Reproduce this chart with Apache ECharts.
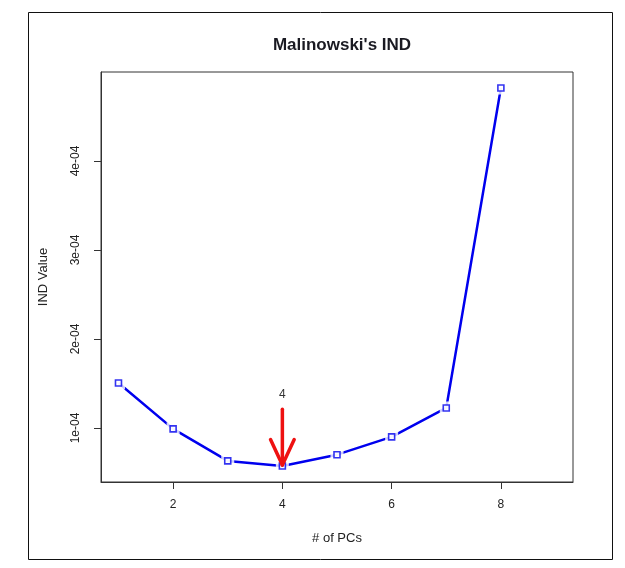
<!DOCTYPE html>
<html><head><meta charset="utf-8">
<script src="https://cdn.jsdelivr.net/npm/echarts@6/dist/echarts.min.js"></script>
<style>html,body{margin:0;padding:0;background:#fff}#c{width:625px;height:568px}</style>
</head><body><div id="c"></div>
<script>
const pcs = [1,2,3,4,5,6,7,8];
const indValues = [1.506e-4, 0.99e-4, 0.63e-4, 0.573e-4, 0.70e-4, 0.90e-4, 1.225e-4, 4.82e-4];
const xTicks = [2,4,6,8];
const yTicks = [1e-4, 2e-4, 3e-4, 4e-4];
const yTickLabels = ['1e-04','2e-04','3e-04','4e-04'];
const arrowData = [[4, 1.21e-4, 0.585e-4]];
const arrowLabel = [[4, 1.37e-4, '4']];

const font = 'Liberation Sans, Arial, sans-serif';
const pts = pcs.map((p,i)=>[p, indValues[i]]);
const chart = echarts.init(document.getElementById('c'));
chart.setOption({
  backgroundColor:'#fff',
  animation:false,
  title:{text:"Malinowski's IND", left:337, top:32, textAlign:'center',
    textStyle:{fontFamily:font,fontSize:17,fontWeight:'bold',color:'#1a1a22'}},
  graphic:[{type:'rect',shape:{x:28.5,y:12.5,width:584,height:547},style:{fill:null,stroke:'#111',lineWidth:1}}],
  grid:{left:101,top:72,width:472,height:410,show:true,borderColor:'#333',borderWidth:1,containLabel:false},
  xAxis:{type:'value',min:0.68,max:9.32,
    name:'# of PCs',nameLocation:'middle',nameGap:50,
    nameTextStyle:{fontFamily:font,fontSize:13,color:'#222'},
    axisLine:{show:true,lineStyle:{color:'#333'}},
    axisTick:{show:true,length:7,inside:false,customValues:xTicks,lineStyle:{color:'#333'}},
    axisLabel:{customValues:xTicks,margin:17,fontFamily:font,fontSize:12,color:'#222'},
    splitLine:{show:false}},
  yAxis:{type:'value',min:0.393e-4,max:5e-4,
    name:'IND Value',nameLocation:'middle',nameGap:51,nameRotate:90,
    nameTextStyle:{fontFamily:font,fontSize:13,color:'#222'},
    axisLine:{show:true,lineStyle:{color:'#333'}},
    axisTick:{show:true,length:7,inside:false,customValues:yTicks,lineStyle:{color:'#333'}},
    axisLabel:{customValues:yTicks,rotate:90,margin:19,fontFamily:font,fontSize:12,color:'#222',
      formatter:(v)=>{const i=yTicks.findIndex(t=>Math.abs(t-v)<1e-9);return i>=0?yTickLabels[i]:'';}},
    splitLine:{show:false}},
  series:[
    {type:'line',data:pts,symbol:'none',lineStyle:{color:'#0000ee',width:2.5},z:2},
    {type:'scatter',data:pts,symbol:'rect',symbolSize:13,itemStyle:{color:'#fff'},z:3},
    {type:'scatter',data:pts,symbol:'rect',symbolSize:6,itemStyle:{color:'#fff',borderColor:'#0000ee',borderWidth:1.6},z:4},
    {type:'custom',data:arrowData,z:5,
      renderItem:(params,api)=>{
        const p0=api.coord([api.value(0),api.value(1)]);
        const p1=api.coord([api.value(0),api.value(2)]);
        const L=28, a=25*Math.PI/180;
        const st={stroke:'#ee1111',lineWidth:3.5,lineCap:'round'};
        return {type:'group',children:[
          {type:'line',shape:{x1:p0[0],y1:p0[1],x2:p1[0],y2:p1[1]},style:st},
          {type:'line',shape:{x1:p1[0],y1:p1[1],x2:p1[0]-L*Math.sin(a),y2:p1[1]-L*Math.cos(a)},style:st},
          {type:'line',shape:{x1:p1[0],y1:p1[1],x2:p1[0]+L*Math.sin(a),y2:p1[1]-L*Math.cos(a)},style:st}
        ]};
      }},
    {type:'custom',data:arrowLabel,z:5,
      renderItem:(params,api)=>{
        const p=api.coord([api.value(0),api.value(1)]);
        return {type:'text',x:p[0],y:p[1],style:{text:'4',fontFamily:font,fontSize:12,fill:'#333',align:'center',verticalAlign:'middle'}};
      }}
  ]
});
</script></body></html>
